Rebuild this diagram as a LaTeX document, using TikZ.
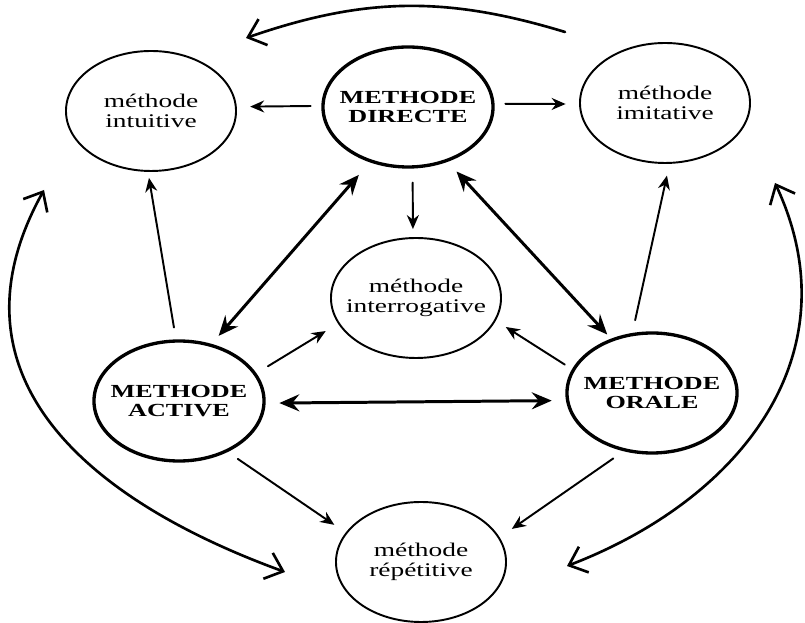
\documentclass[tikz,border=0pt]{standalone}
\usepackage{fontspec}
\setmainfont{Liberation Serif}
\usepackage{tikz}
\usetikzlibrary{positioning,calc,arrows.meta}

\begin{document}
\begin{tikzpicture}[
		x=0.2mm,y=0.2mm,
		>=Stealth,
		line cap=round,line join=round
		]
		% ---- parameters
		\def\sx{1.417}   % horizontal stretch of the circles
		\def\rad{24mm}
		
		% ---- styles
		\tikzset{
			meth/.style={circle, draw, line width=1.1pt, minimum size=\rad, inner sep=0pt, xscale=\sx, align=center, font=\fontsize{11}{11.5}\selectfont},
			methB/.style={meth, line width=1.9pt, font=\fontsize{10.5}{11}\selectfont\bfseries},
			arr/.style={-{Stealth[length=2.8mm,width=2.4mm]}, line width=1.1pt},
			darr/.style={{Stealth[length=4mm,width=3.4mm,inset=1.4mm]}-{Stealth[length=4mm,width=3.4mm,inset=1.4mm]}, line width=1.7pt},
			bigarc/.style={line width=1.5pt},
			barbs/.style={bigarc, {Straight Barb[length=3.2mm,width=5.5mm]}-{Straight Barb[length=3.2mm,width=5.5mm]}}
		}
		
		\useasboundingbox (0,0) rectangle (805,623);
		
		% ---- the seven methods
		\node[meth]  (MIntu)  at (151,512) {méthode\\intuitive};
		\node[methB] (MDir)   at (408,516) {METHODE\\DIRECTE};
		\node[meth]  (MImit)  at (665,520) {méthode\\imitative};
		\node[meth]  (MInter) at (416,325) {méthode\\interrogative};
		\node[methB] (MAct)   at (179,222) {METHODE\\ACTIVE};
		\node[methB] (MOral)  at (652,230) {METHODE\\ORALE};
		\node[meth]  (MRep)   at (421,61)  {méthode\\répétitive};
		
		% ---- from the direct method
		\draw[arr, shorten <=2mm, shorten >=2.6mm] (MDir.179) -- (MIntu.4);
		\draw[arr, shorten <=2mm, shorten >=2.6mm] (MDir.3) -- (MImit.181);
		\draw[arr, shorten <=2.8mm, shorten >=1.6mm] (MDir.273) -- (MInter.92);
		\draw[darr, shorten <=3.3mm, shorten >=2.1mm] (MDir.244) -- (MAct.68);
		\draw[darr, shorten <=2.6mm, shorten >=1.1mm] (MDir.297) -- (MOral.118);
		
		% ---- active and oral methods
		\draw[arr, shorten <=2.4mm, shorten >=1.2mm] (MAct.92) -- (MIntu.268);
		\draw[arr, shorten <=2.6mm, shorten >=2.4mm] (MOral.103) -- (MImit.273);
		\draw[arr, shorten <=2.6mm, shorten >=2.8mm] (MAct.27) -- (MInter.205);
		\draw[arr, shorten <=1.6mm, shorten >=2.3mm] (MOral.157) -- (MInter.338);
		\draw[darr, shorten <=2.6mm, shorten >=2.7mm] (MAct.358) -- (MOral.187);
		\draw[arr, shorten <=2.4mm, shorten >=2.7mm] (MAct.304) -- (MRep.151);
		\draw[arr, shorten <=2.5mm, shorten >=2.9mm] (MOral.251) -- (MRep.24);
		
		% ---- big outer arcs
		\coordinate (topR) at (565,591);
		\coordinate (topL) at (246,585);
		\coordinate (leftT) at (44,433);
		\coordinate (leftB) at (285,51);
		\coordinate (rightT) at (775,440);
		\coordinate (rightB) at (567,57);
		
		\draw[bigarc, -{Straight Barb[length=3.2mm,width=5.5mm]}] (topR) to[bend right=18] (topL);
		\draw[barbs] (leftT) to[out=241, in=160, looseness=1.2] (leftB);
		\draw[barbs] (rightT) to[out=295, in=21, looseness=1.1] (rightB);
		
	\end{tikzpicture}
\end{document}
